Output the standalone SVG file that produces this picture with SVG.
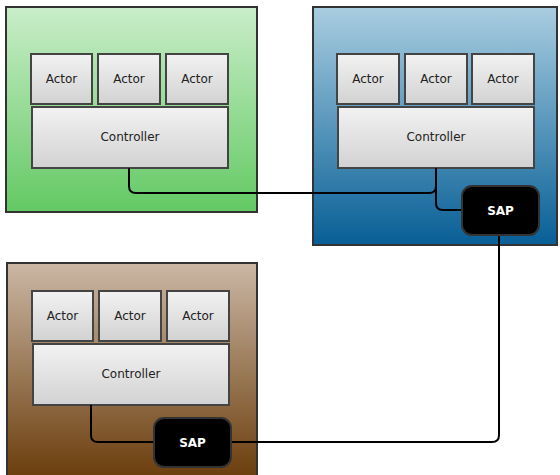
<svg xmlns="http://www.w3.org/2000/svg" width="560" height="475" viewBox="0 0 560 475">
<defs>
<linearGradient id="gGreen" x1="0" y1="0" x2="0" y2="1"><stop offset="0" stop-color="#c9edc9"/><stop offset="1" stop-color="#63c963"/></linearGradient>
<linearGradient id="gBlue" x1="0" y1="0" x2="0" y2="1"><stop offset="0" stop-color="#a9cde0"/><stop offset="1" stop-color="#075f96"/></linearGradient>
<linearGradient id="gBrown" x1="0" y1="0" x2="0" y2="1"><stop offset="0" stop-color="#cbb7a5"/><stop offset="1" stop-color="#683a08"/></linearGradient>
<linearGradient id="gBox" x1="0" y1="0" x2="0" y2="1"><stop offset="0" stop-color="#f2f2f2"/><stop offset="1" stop-color="#d2d2d2"/></linearGradient>
</defs>
<style>
.cont{stroke:#333;stroke-width:2}
.box{fill:url(#gBox);stroke:#444;stroke-width:2}
.sap{fill:#000;stroke:#333;stroke-width:2}
.t{font-family:"DejaVu Sans",Verdana,sans-serif;font-size:12px;fill:#222;text-anchor:middle;dominant-baseline:central}
.ts{font-family:"DejaVu Sans",Verdana,sans-serif;font-size:12px;font-weight:bold;fill:#fff;text-anchor:middle;dominant-baseline:central}
.c{fill:none;stroke:#000;stroke-width:2}
</style>
<g id="green">
<rect class="cont" x="6" y="7" width="251" height="205" fill="url(#gGreen)"/>
<g id="g-actor1"><rect class="box" x="31" y="54" width="61" height="50"/><text class="t" x="61.5" y="79">Actor</text></g>
<g id="g-actor2"><rect class="box" x="98" y="54" width="62" height="50"/><text class="t" x="129" y="79">Actor</text></g>
<g id="g-actor3"><rect class="box" x="166" y="54" width="62" height="50"/><text class="t" x="197" y="79">Actor</text></g>
<g id="g-ctrl"><rect class="box" x="32" y="107" width="196" height="61"/><text class="t" x="130" y="137">Controller</text></g>
</g>
<g id="blue">
<rect class="cont" x="313" y="7" width="244" height="238" fill="url(#gBlue)"/>
<g id="b-actor1"><rect class="box" x="337" y="54" width="62" height="50"/><text class="t" x="368" y="79">Actor</text></g>
<g id="b-actor2"><rect class="box" x="405" y="54" width="62" height="50"/><text class="t" x="436" y="79">Actor</text></g>
<g id="b-actor3"><rect class="box" x="472" y="54" width="62" height="50"/><text class="t" x="503" y="79">Actor</text></g>
<g id="b-ctrl"><rect class="box" x="338" y="107" width="196" height="61"/><text class="t" x="436" y="137">Controller</text></g>
</g>
<g id="brown">
<rect class="cont" x="7" y="263" width="250" height="220" fill="url(#gBrown)"/>
<g id="r-actor1"><rect class="box" x="32" y="291" width="61" height="50"/><text class="t" x="62.5" y="316">Actor</text></g>
<g id="r-actor2"><rect class="box" x="99" y="291" width="62" height="50"/><text class="t" x="130" y="316">Actor</text></g>
<g id="r-actor3"><rect class="box" x="167" y="291" width="62" height="50"/><text class="t" x="198" y="316">Actor</text></g>
<g id="r-ctrl"><rect class="box" x="33" y="344" width="196" height="61"/><text class="t" x="131" y="374">Controller</text></g>
</g>
<g id="connectors">
<path class="c" d="M129,168 V186 Q129,193 136,193 H429 Q436,193 436,186 V168"/>
<path class="c" d="M436,186 V203 Q436,210 443,210 H462"/>
<path class="c" d="M499,235 V435 Q499,442 492,442 H231"/>
<path class="c" d="M91,405 V435 Q91,442 98,442 H154"/>
</g>
<g id="sap-blue"><rect class="sap" x="462" y="186" width="77" height="49" rx="10"/><text class="ts" x="500.5" y="210.5">SAP</text></g>
<g id="sap-brown"><rect class="sap" x="154" y="418" width="77" height="49" rx="10"/><text class="ts" x="192.5" y="442.5">SAP</text></g>
</svg>
